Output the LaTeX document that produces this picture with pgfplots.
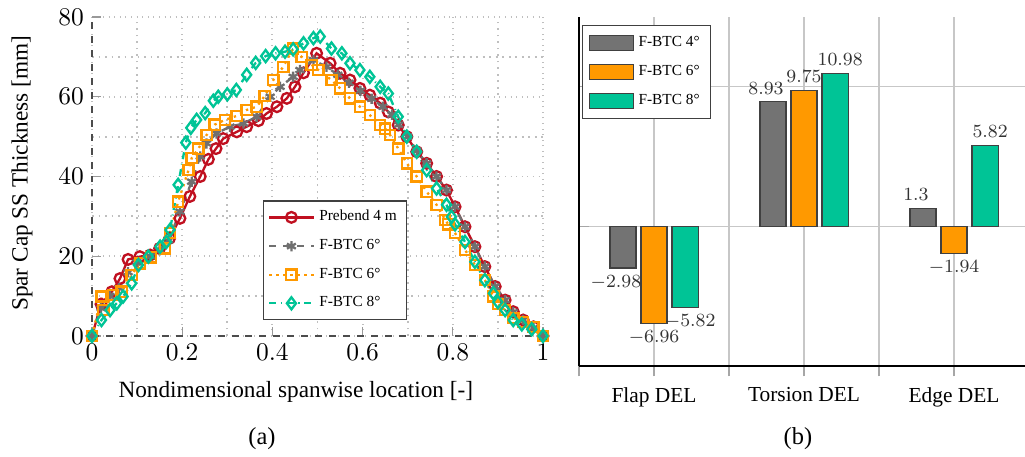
\documentclass[border=0pt]{standalone}
\usepackage{fontspec}
\setmainfont{Liberation Serif}
\usepackage{pgfplots}
\usepackage{pgfplotstable}
\pgfplotsset{compat=1.18}
\definecolor{cred}{RGB}{192,16,32}
\definecolor{cgrey}{RGB}{112,112,112}
\definecolor{corange}{RGB}{255,153,0}
\definecolor{cgreen}{RGB}{0,196,150}
\definecolor{bgrey}{RGB}{115,115,115}

\pgfplotstableread{
x y
0 0
0.02 8
0.044 11.1
0.062 14.4
0.08 19.2
0.106 19.9
0.129 20.3
0.15 22
0.172 24.5
0.195 29.5
0.217 35
0.24 40
0.258 44.3
0.275 47
0.291 49.5
0.321 51.2
0.343 52.5
0.369 54
0.387 55.8
0.41 57.5
0.432 59.6
0.45 62.5
0.469 66
0.498 70.9
0.528 68.4
0.55 65.9
0.572 64.2
0.594 62.1
0.616 60.4
0.639 58.4
0.657 56.2
0.679 52.9
0.698 50
0.72 46.2
0.742 43.3
0.764 40
0.786 36.6
0.805 32.4
0.827 27.4
0.849 22.4
0.871 17.4
0.894 12.4
0.916 9
0.934 6.1
0.956 4
0.979 2.3
1.0 0
}\prebend

\pgfplotstableread{
x y
0 0
0.02 7
0.04 10
0.06 12
0.08 16
0.1 18.5
0.13 20
0.15 21.5
0.17 24
0.195 31.2
0.221 38.7
0.24 45
0.254 48.3
0.276 50.8
0.306 52.5
0.336 53.3
0.365 55
0.395 60
0.417 62.5
0.446 65
0.461 66.7
0.491 69.2
0.52 67.5
0.545 65.5
0.57 63.5
0.595 61.5
0.62 59.5
0.645 57.5
0.665 55.5
0.68 53
0.7 50
0.72 46.5
0.742 43.3
0.764 40
0.786 36.6
0.805 32.4
0.827 27.4
0.849 22.4
0.871 17.4
0.894 12.4
0.916 9
0.934 6
0.956 4
0.979 2
1.0 0
}\btcfour

\pgfplotstableread{
x y
0 0
0.021 9.9
0.025 6.5
0.047 10.3
0.066 11.1
0.088 15.3
0.106 18.2
0.131 19.7
0.162 22
0.173 25.8
0.191 33.7
0.214 41.6
0.221 44.6
0.236 47
0.254 50.4
0.272 53
0.295 54.2
0.321 55.2
0.343 56.7
0.365 57.5
0.383 60.2
0.402 64.2
0.424 67.5
0.446 72.1
0.465 70
0.487 68
0.502 66.7
0.531 64.2
0.55 62.1
0.572 59.6
0.594 57.5
0.616 55.4
0.639 52.9
0.65 52
0.661 50.4
0.679 47
0.698 43.3
0.72 40
0.742 36.2
0.764 32.9
0.783 29.1
0.79 28
0.805 25.8
0.827 21.6
0.849 17.8
0.871 14
0.89 9.9
0.9 8
0.916 6.5
0.934 4.5
0.956 3.5
0.979 2.3
1.0 0
}\btcsix

\pgfplotstableread{
x y
0 0
0.021 4
0.04 6.5
0.055 8.2
0.069 9.9
0.088 13.2
0.103 17.8
0.125 19.9
0.151 22.4
0.165 23.6
0.173 26.6
0.191 37.9
0.208 48.5
0.219 52.2
0.232 54.2
0.251 55.9
0.269 59
0.28 60
0.3 60.6
0.32 61.7
0.343 65.5
0.363 68.5
0.385 70.2
0.407 70.9
0.428 71.3
0.446 71.9
0.469 73.4
0.491 74.7
0.506 75.1
0.531 72.1
0.554 70.9
0.572 68.4
0.594 66.7
0.616 65
0.639 62.5
0.657 60.8
0.679 55
0.698 50
0.72 46.2
0.742 41.6
0.764 37
0.786 32.9
0.797 29.9
0.805 28
0.827 23.6
0.849 18.6
0.871 14
0.89 10.7
0.9 8.5
0.916 6.5
0.934 4
0.953 2.9
0.975 1.7
1.0 0
}\btceight

\pgfplotsset{
  linelegend/.style={legend image code/.code={
    \draw[mark repeat=2,mark phase=2,##1] plot coordinates {(0pt,0pt) (9.5pt,0pt) (19pt,0pt)};}},
  barlegend/.style={legend image code/.code={
    \draw[##1] (0pt,-3.2pt) rectangle (19pt,3.2pt);}},
}

\begin{document}
\begin{tikzpicture}[x=1pt,y=1pt]
\path[use as bounding box] (0,0) rectangle (440.75,196.5);

\begin{axis}[
  at={(39.56pt,52.03pt)}, anchor=south west,
  scale only axis, width=193.93pt, height=137.17pt,
  xmin=0, xmax=1, ymin=0, ymax=80,
  xtick={0,0.2,0.4,0.6,0.8,1}, ytick={0,20,40,60,80},
  minor xtick={0.1,0.3,0.5,0.7,0.9}, minor ytick={10,30,50,70},
  grid=both,
  grid style={dotted, line width=0.8pt, color=black!25},
  minor grid style={dotted, line width=0.8pt, color=black!25},
  axis x line*=bottom, axis y line*=left,
  axis line style={dashed, black!70, line width=0.5pt, -},
  tick align=inside, tick style={black!40, line width=0.5pt},
  major tick length=4pt, minor tick length=0pt,
  xticklabel style={/pgf/number format/fixed},
  tick label style={font=\fontsize{10.5}{12}\selectfont},
  xlabel={Nondimensional spanwise location [-]},
  ylabel={Spar Cap SS Thickness [mm]},
  label style={font=\fontsize{10.5}{12}\selectfont},
  every axis x label/.style={at={(axis description cs:0.452,-0.176)}, anchor=center},
  every axis y label/.style={at={(axis description cs:-0.155,0.51)}, anchor=center, rotate=90},
  legend style={at={(axis cs:0.698,4)}, anchor=south east,
    font=\fontsize{6.6}{8}\selectfont, draw=black!75, line width=0.5pt,
    row sep=2.4pt, inner sep=2pt, cells={anchor=west}},
  linelegend,
]
\addplot[cred, line width=1pt, mark=o, mark size=2.3pt, mark options={solid, fill=white}] table {\prebend};
\addlegendentry{Prebend 4 m}
\addplot[cgrey, dashed, line width=1pt, mark=asterisk, mark size=2.2pt, mark options={solid}] table {\btcfour};
\addlegendentry{F-BTC 6\textdegree}
\addplot[corange, dotted, line width=1pt, mark=square, mark size=2.2pt, mark options={solid}] table {\btcsix};
\addlegendentry{F-BTC 6\textdegree}
\addplot[cgreen, dash dot, line width=1pt, mark=diamond, mark size=2.6pt, mark options={solid}] table {\btceight};
\addlegendentry{F-BTC 8\textdegree}
\end{axis}

\begin{axis}[
  at={(248.97pt,39.13pt)}, anchor=south west,
  scale only axis, width=193.5pt, height=150.07pt,
  ybar=2.15pt, bar width=11.2pt,
  xmin=-0.5, xmax=2.5, ymin=-10, ymax=15,
  xtick={0,1,2}, xticklabels={Flap DEL, Torsion DEL, Edge DEL},
  minor xtick={-0.5,0.5,1.5,2.5},
  ytick={0,10}, yticklabels={},
  grid=both, grid style={black!22, line width=0.5pt},
  minor grid style={black!22, line width=0.5pt},
  axis x line*=bottom, axis y line*=left,
  axis line style={black, line width=0.6pt, -},
  xtick align=outside, ytick align=inside,
  tick style={black!35, line width=0.5pt},
  major tick length=4.5pt, minor tick length=4.5pt,
  xticklabel style={font=\fontsize{9.2}{11}\selectfont, yshift=-1.2pt},
  nodes near coords, nodes near coords align=vertical,
  every node near coord/.append style={font=\fontsize{7.7}{9}\selectfont, black!80, inner sep=2.9pt},
  legend style={at={(rel axis cs:0.007,0.977)}, anchor=north west,
    font=\fontsize{6.6}{8}\selectfont, draw=black!75, line width=0.5pt,
    row sep=2.6pt, inner sep=2.5pt, cells={anchor=west}},
]
\addplot[fill=bgrey, draw=black!75, line width=0.5pt, barlegend,
  every node near coord/.append style={xshift=-3pt}] coordinates {(0,-2.98) (1,8.93) (2,1.3)};
\addlegendentry{F-BTC 4\textdegree}
\addplot[fill=corange, draw=black!75, line width=0.5pt, barlegend] coordinates {(0,-6.96) (1,9.75) (2,-1.94)};
\addlegendentry{F-BTC 6\textdegree}
\addplot[fill=cgreen, draw=black!75, line width=0.5pt, barlegend,
  every node near coord/.append style={xshift=2.2pt}] coordinates {(0,-5.82) (1,10.98) (2,5.82)};
\addlegendentry{F-BTC 8\textdegree}
\end{axis}

\node[font=\fontsize{10.5}{12}\selectfont] at (112.66,7.9) {(a)};
\node[font=\fontsize{10.5}{12}\selectfont] at (343.1,7.9) {(b)};
\end{tikzpicture}
\end{document}
